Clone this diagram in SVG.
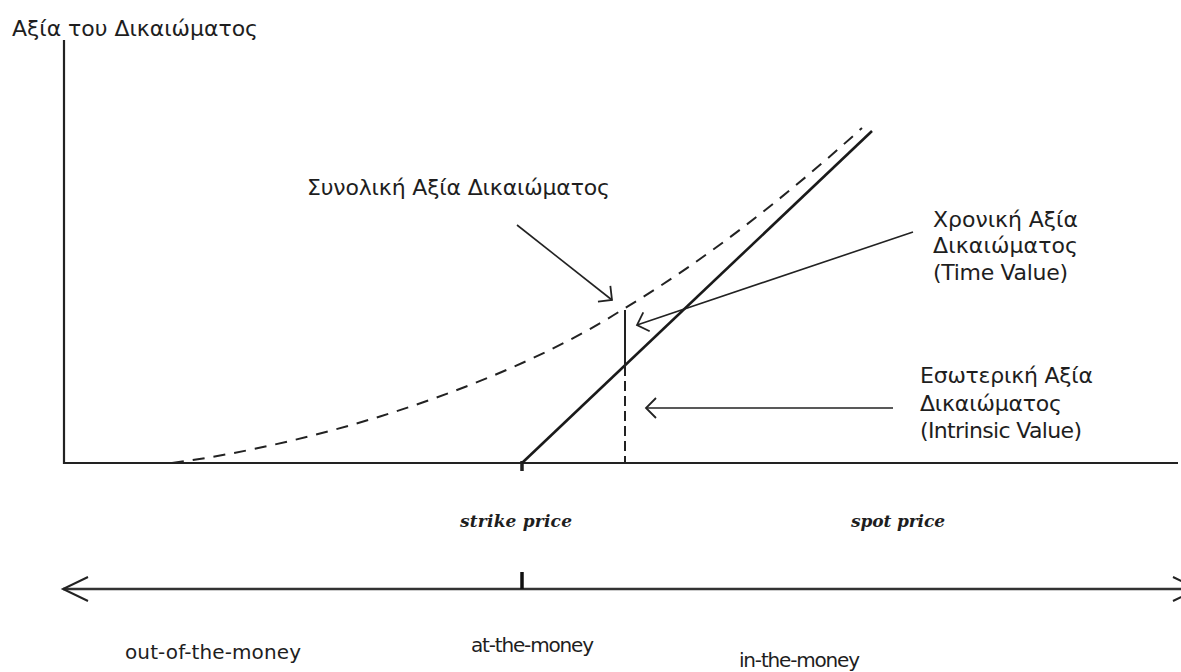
<svg xmlns="http://www.w3.org/2000/svg" width="1181" height="672" viewBox="0 0 1181 672">
  <style>
    .lbl { font-family: "DejaVu Sans", "Liberation Sans", sans-serif; font-size: 22px; fill: #1e1e1e; }
    .sm { font-size: 20px; }
    .scr { font-family: "DejaVu Serif", "Liberation Serif", serif; font-size: 17px; font-style: italic; font-weight: bold; fill: #1e1e1e; }
    .axis { stroke: #222; stroke-width: 2.2; fill: none; }
    .thin { stroke: #222; stroke-width: 1.6; fill: none; }
  </style>
  <defs>
    <marker id="openHead" markerUnits="userSpaceOnUse" markerWidth="30" markerHeight="30" viewBox="-15 -15 30 30" refX="0" refY="0" orient="auto">
      <path d="M-10,-10 L0,0 L-10,10" fill="none" stroke="#222" stroke-width="1.8"/>
    </marker>
    <marker id="bigHead" markerUnits="userSpaceOnUse" markerWidth="60" markerHeight="40" viewBox="-30 -20 60 40" refX="0" refY="0" orient="auto-start-reverse">
      <path d="M-25,-12 L0,0 L-25,12" fill="none" stroke="#222" stroke-width="2"/>
    </marker>
  </defs>

  <rect width="1181" height="672" fill="#ffffff"/>

  <!-- axes -->
  <g id="axes">
    <line class="axis" x1="64" y1="40" x2="64" y2="464"/>
    <line class="axis" x1="63" y1="463" x2="1178" y2="463"/>
    <line x1="522" y1="461" x2="522" y2="471" stroke="#222" stroke-width="3.5"/>
  </g>

  <!-- option value curves -->
  <g id="intrinsic-line">
    <line x1="522" y1="463" x2="872" y2="131" stroke="#1a1a1a" stroke-width="2.6"/>
  </g>
  <g id="total-value-curve">
    <path d="M172,463 C322,443 505,385 625,308 C705,260 782,200 862,128" fill="none" stroke="#222" stroke-width="2" stroke-dasharray="12 9"/>
  </g>
  <g id="value-split">
    <line x1="625" y1="310" x2="625" y2="366" stroke="#222" stroke-width="2"/>
    <line x1="625" y1="366" x2="625" y2="463" stroke="#222" stroke-width="2" stroke-dasharray="10 5"/>
  </g>

  <!-- money scale -->
  <g id="money-scale">
    <line x1="63" y1="589" x2="1198" y2="589" stroke="#333" stroke-width="2.4" marker-start="url(#bigHead)" marker-end="url(#bigHead)"/>
    <line x1="522" y1="572" x2="522" y2="589" stroke="#111" stroke-width="3.5"/>
  </g>

  <!-- labels -->
  <g id="y-axis-title">
    <text class="lbl" x="12" y="36" textLength="246">Αξία του Δικαιώματος</text>
  </g>
  <g id="total-value-label">
    <text class="lbl" x="307" y="195" textLength="303">Συνολική Αξία Δικαιώματος</text>
  </g>
  <g id="time-value-label">
    <text class="lbl" x="933" y="227" textLength="145">Χρονική Αξία</text>
    <text class="lbl" x="933" y="253" textLength="145">Δικαιώματος</text>
    <text class="lbl" x="933" y="280" textLength="135">(Time Value)</text>
  </g>
  <g id="intrinsic-value-label">
    <text class="lbl" x="920" y="383" textLength="173">Εσωτερική Αξία</text>
    <text class="lbl" x="920" y="411" textLength="142">Δικαιώματος</text>
    <text class="lbl" x="920" y="438" textLength="162">(Intrinsic Value)</text>
  </g>
  <g id="strike-price">
    <text class="scr" x="460" y="527" textLength="112">strike price</text>
  </g>
  <g id="spot-price">
    <text class="scr" x="851" y="527" textLength="94">spot price</text>
  </g>
  <g id="out-of-the-money">
    <text class="lbl sm" x="125" y="659" textLength="176">out-of-the-money</text>
  </g>
  <g id="at-the-money">
    <text class="lbl sm" x="471" y="652" textLength="123">at-the-money</text>
  </g>
  <g id="in-the-money">
    <text class="lbl sm" x="739" y="667" textLength="121">in-the-money</text>
  </g>

  <!-- callout arrows -->
  <g id="connectors">
    <line class="thin" x1="517" y1="225" x2="612" y2="300" marker-end="url(#openHead)"/>
    <line class="thin" x1="913" y1="232" x2="637" y2="325" marker-end="url(#openHead)"/>
    <line class="thin" x1="893" y1="408" x2="646" y2="408" marker-end="url(#openHead)"/>
  </g>
</svg>
